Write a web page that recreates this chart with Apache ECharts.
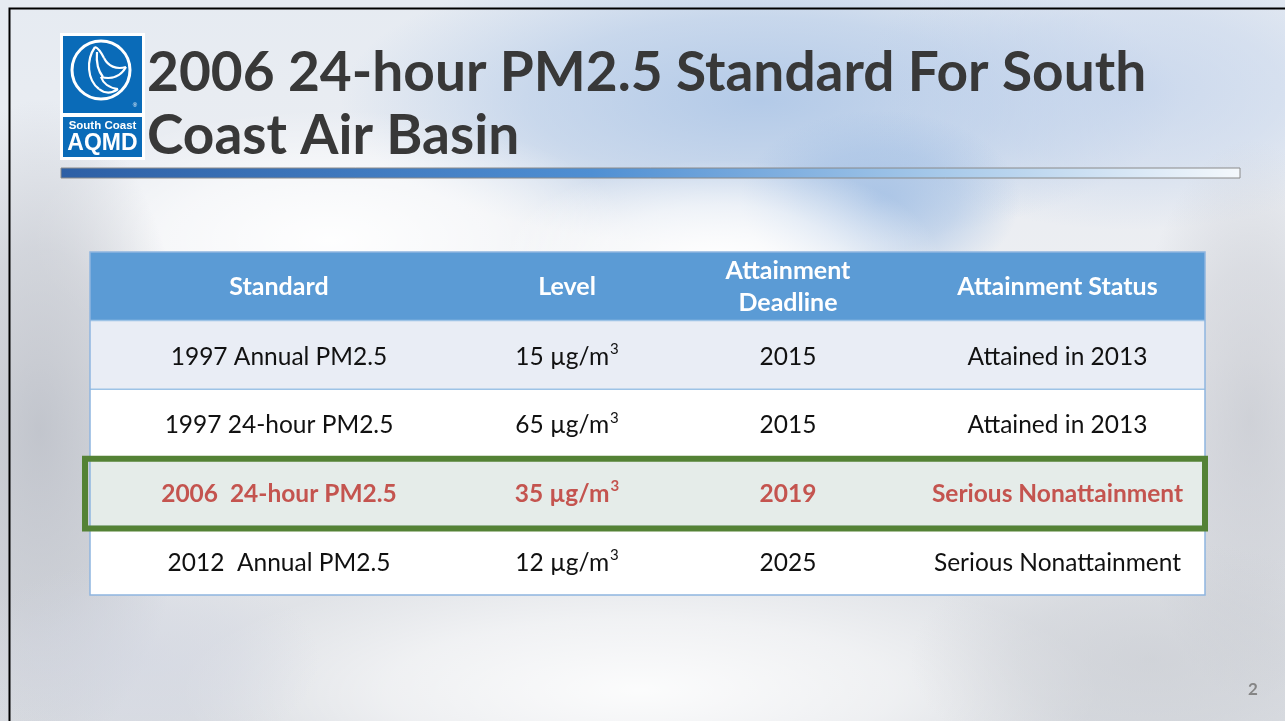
<!DOCTYPE html>
<html>
<head>
<meta charset="utf-8">
<title>2006 24-hour PM2.5 Standard For South Coast Air Basin</title>
<script src="https://cdn.jsdelivr.net/npm/echarts@6/dist/echarts.min.js"></script>
<style>
  html, body { margin: 0; padding: 0; background: #fff; }
  #main { width: 1285px; height: 721px; }
</style>
</head>
<body>
<div id="main"></div>
<script>
// table contents
const headers = ['Standard', 'Level', 'Attainment\nDeadline', 'Attainment Status'];
const standards = ['1997 Annual PM2.5', '1997 24-hour PM2.5', '2006  24-hour PM2.5', '2012  Annual PM2.5'];
const levels = [15, 65, 35, 12];
const levelUnit = 'µg/m';
const deadlines = [2015, 2015, 2019, 2025];
const statuses = ['Attained in 2013', 'Attained in 2013', 'Serious Nonattainment', 'Serious Nonattainment'];
const highlightRow = 2; // the 2006 24-hour standard

const titleLines = ['2006 24-hour PM2.5 Standard For South', 'Coast Air Basin'];
const pageNumber = '2';

// layout of the table (pixels of table width)
const TABLE_W = 1115;
const colEdges = [0, 378, 576, 820, 1115];
const rowKeys = ['header'].concat(standards.map((s, i) => 'row' + i));

const FONT = 'Lato, "Open Sans", sans-serif';
const rowFills = ['#5B9BD5', '#E9EDF5', '#FFFFFF', '#E5ECE9', '#FFFFFF'];

let chart = echarts.init(document.getElementById('main'));

function cellTexts(i) {
  if (i === 0) return headers;
  const k = i - 1;
  // level gets a superscript cube via rich text
  return [standards[k], '{n|' + levels[k] + ' ' + levelUnit + '}{sup|3}', String(deadlines[k]), statuses[k]];
}

function renderRow(params, api) {
  const i = params.dataIndex;
  const l = api.coord([0, i]);
  const r = api.coord([TABLE_W, i]);
  const h = api.size([0, 1])[1];
  const top = l[1] - h / 2;
  const isHeader = i === 0;
  const isHi = i - 1 === highlightRow;
  const color = isHeader ? '#FFFFFF' : (isHi ? '#C4544F' : '#111111');
  const weight = (isHeader || isHi) ? 'bold' : 'normal';
  const children = [{
    type: 'rect',
    shape: { x: l[0], y: top, width: r[0] - l[0], height: h },
    style: { fill: rowFills[i] }
  }];
  if (!isHeader) {
    children.push({
      type: 'line',
      shape: { x1: l[0], y1: top, x2: r[0], y2: top },
      style: { stroke: '#9DC3E6', lineWidth: 1.5 }
    });
  }
  cellTexts(i).forEach((txt, c) => {
    const cx = api.coord([(colEdges[c] + colEdges[c + 1]) / 2, i])[0];
    children.push({
      type: 'text',
      x: cx,
      y: l[1] + (isHeader ? 1 : 2),
      style: {
        text: txt,
        align: 'center',
        verticalAlign: 'middle',
        fontFamily: FONT,
        fontSize: isHeader ? 25 : 24.5,
        lineHeight: 32,
        fontWeight: weight,
        fill: color,
        rich: {
          n: { fontFamily: FONT, fontSize: 24.5, fontWeight: weight, fill: color, lineHeight: 30 },
          sup: { fontFamily: FONT, fontSize: 15, fontWeight: weight, fill: color, lineHeight: 19, verticalAlign: 'top', padding: [0, 0, 0, 1] }
        }
      }
    });
  });
  return { type: 'group', children: children };
}

function renderHighlight(params, api) {
  const i = api.value(1);
  const l = api.coord([0, i]);
  const r = api.coord([TABLE_W, i]);
  const h = api.size([0, 1])[1];
  return {
    type: 'rect',
    shape: { x: l[0] - 5, y: l[1] - h / 2 + 1, width: r[0] - l[0] + 5, height: h + 1 },
    style: { fill: null, stroke: '#548235', lineWidth: 6 }
  };
}

// soft cloud blob: a circle with a radial fade, stretched by scale
function cloud(cx, cy, rx, ry, color, alpha) {
  return {
    type: 'circle',
    x: cx, y: cy,
    scaleX: rx / 100, scaleY: ry / 100,
    shape: { cx: 0, cy: 0, r: 100 },
    style: {
      fill: {
        type: 'radial', x: 0.5, y: 0.5, r: 0.5,
        colorStops: [
          { offset: 0, color: 'rgba(' + color + ',' + alpha + ')' },
          { offset: 0.55, color: 'rgba(' + color + ',' + (alpha * 0.6) + ')' },
          { offset: 1, color: 'rgba(' + color + ',0)' }
        ]
      }
    },
    silent: true
  };
}

const background = [
  {
    type: 'rect', shape: { x: 0, y: 0, width: 1285, height: 721 },
    style: {
      fill: { type: 'linear', x: 0, y: 0, x2: 0, y2: 1,
        colorStops: [{ offset: 0, color: '#E6EBF2' }, { offset: 0.5, color: '#EEEFF2' }, { offset: 1, color: '#DADDE2' }] }
    }, silent: true
  },
  cloud(760, 100, 420, 150, '170,196,230', 0.85),
  cloud(1130, 90, 280, 140, '190,208,235', 0.7),
  cloud(880, 200, 140, 90, '160,190,228', 0.8),
  cloud(330, 240, 300, 130, '255,255,255', 0.95),
  cloud(720, 260, 220, 100, '255,255,255', 0.95),
  cloud(40, 430, 150, 330, '180,184,193', 0.75),
  cloud(1250, 420, 120, 280, '188,191,199', 0.6),
  cloud(640, 690, 460, 130, '255,255,255', 0.9),
  cloud(1150, 660, 240, 120, '200,203,209', 0.6),
  cloud(140, 660, 180, 100, '210,214,226', 0.6),
  // slide frame
  { type: 'polyline', shape: { points: [[9.5, 721], [9.5, 8.5], [1285, 8.5]] },
    style: { stroke: '#000', lineWidth: 2, fill: null }, silent: true }
];

function curve(p) {
  return { type: 'bezierCurve',
    shape: { x1: p[0], y1: p[1], cpx1: p[2], cpy1: p[3], cpx2: p[4], cpy2: p[5], x2: p[6], y2: p[7] },
    style: { fill: null, stroke: '#FFFFFF', lineWidth: 2.2 } };
}

const birdCurves = [
  [95, 47, 86, 60, 87, 80, 99, 89],
  [99, 89, 104, 93, 111, 94, 118, 89],
  [118, 89, 109, 88, 103, 83, 101, 77],
  [101, 77, 112, 80, 121, 76, 126, 67],
  [126, 67, 116, 70, 108, 66, 104, 58],
  [104, 58, 101, 52, 98, 48, 95, 47],
  [97, 52, 96, 63, 99, 72, 103, 77]
];

const logo = [
  { type: 'rect', shape: { x: 60, y: 33, width: 85, height: 127 }, style: { fill: '#FFFFFF' } },
  { type: 'rect', shape: { x: 63, y: 36, width: 79, height: 77 }, style: { fill: '#0A6BB8' } },
  { type: 'rect', shape: { x: 63, y: 117, width: 79, height: 40 }, style: { fill: '#0A6BB8' } },
  { type: 'circle', shape: { cx: 101, cy: 70, r: 29 }, style: { fill: null, stroke: '#FFFFFF', lineWidth: 3 } }
].concat(birdCurves.map(curve), [
  { type: 'text', x: 135, y: 105, style: { text: '®', fontSize: 6, fill: '#FFFFFF', align: 'center', verticalAlign: 'middle' } },
  { type: 'text', x: 102.5, y: 126, style: { text: 'South Coast', fontFamily: 'Liberation Sans, Arial, sans-serif', fontSize: 11.5, fontWeight: 'bold', fill: '#FFFFFF', align: 'center', verticalAlign: 'middle' } },
  { type: 'text', x: 102.5, y: 144, style: { text: 'AQMD', fontFamily: 'Liberation Sans, Arial, sans-serif', fontSize: 23, fontWeight: 'bold', fill: '#FFFFFF', align: 'center', verticalAlign: 'middle' } }
]);

const titleGraphics = titleLines.map((t, k) => ({
  type: 'text', x: 147, y: 73 + k * 63,
  style: { text: t, fontFamily: FONT, fontSize: 55, fontWeight: 'bold', fill: '#383838', align: 'left', verticalAlign: 'middle' }
}));

const rule = {
  type: 'rect', shape: { x: 61, y: 168, width: 1179, height: 10 },
  style: {
    fill: { type: 'linear', x: 0, y: 0, x2: 1, y2: 0,
      colorStops: [{ offset: 0, color: '#2D5FA5' }, { offset: 0.45, color: '#4F8FD3' }, { offset: 0.75, color: '#A8CAEA' }, { offset: 1, color: '#F4F8FC' }] },
    stroke: '#8A8A8A', lineWidth: 1
  }
};

const pageNo = {
  type: 'text', x: 1253, y: 690,
  style: { text: pageNumber, fontFamily: FONT, fontSize: 17, fontWeight: 'bold', fill: '#858585', align: 'center', verticalAlign: 'middle' }
};

const option = {
  animation: false,
  graphic: [
    { type: 'group', z: -10, children: background },
    { type: 'group', children: logo.concat(titleGraphics, [rule, pageNo]) },
    // thin outer border of the table
    { type: 'rect', z: 5, shape: { x: 90, y: 252, width: 1115, height: 343 },
      style: { fill: null, stroke: '#8FB5E0', lineWidth: 1.5 } }
  ],
  grid: { left: 90, top: 252, width: 1115, height: 343 },
  xAxis: { type: 'value', min: 0, max: TABLE_W, show: false },
  yAxis: { type: 'category', data: rowKeys, inverse: true, show: false },
  series: [
    {
      type: 'custom',
      renderItem: renderRow,
      data: rowKeys.map((k, i) => [0, i]),
      z: 2
    },
    {
      type: 'custom',
      renderItem: renderHighlight,
      data: [[0, highlightRow + 1]],
      z: 6
    }
  ]
};

chart.setOption(option);
</script>
</body>
</html>
